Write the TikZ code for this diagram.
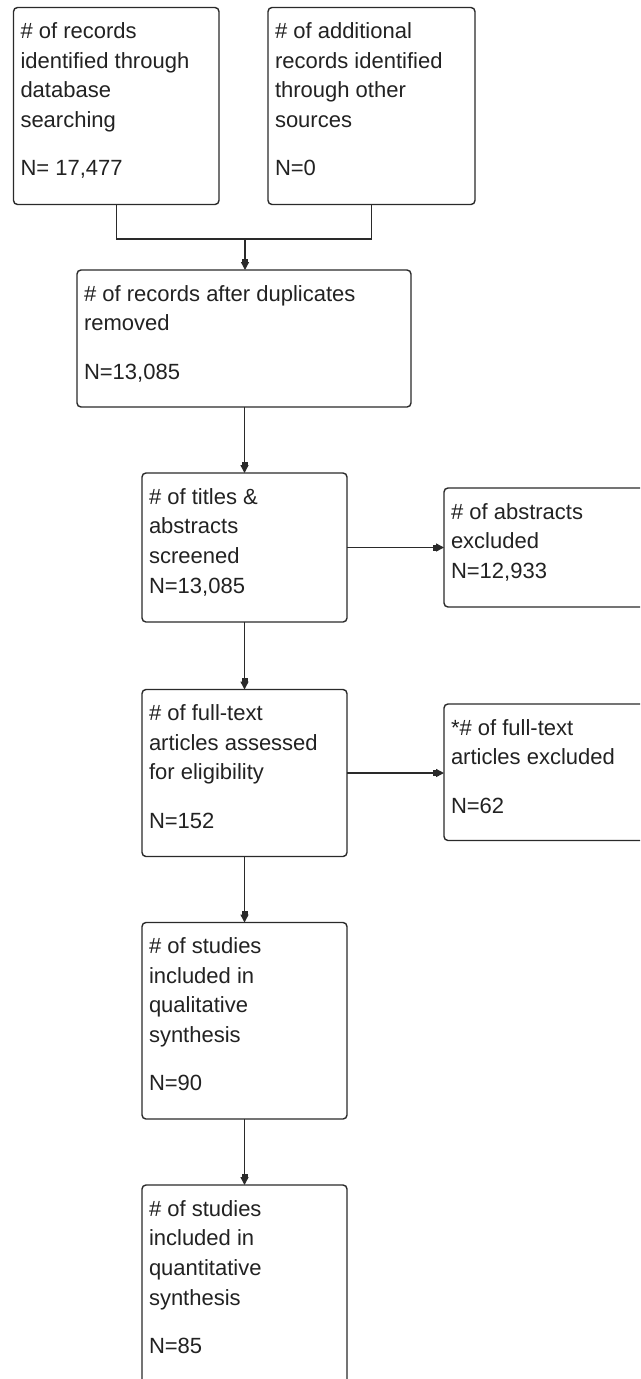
\documentclass[tikz,border=0pt]{standalone}
\usepackage{fontspec}
\setmainfont{Liberation Sans}
\usetikzlibrary{arrows.meta}
\definecolor{ln}{HTML}{2A2A2A}
\definecolor{tx}{HTML}{222222}
\tikzset{
  box/.style={draw=ln, line width=1.4pt, rounded corners=4pt, inner sep=0pt, outer sep=0pt, fill=white},
  txt/.style={anchor=north west, inner sep=0pt, outer sep=0pt, align=left, text=tx, font=\fontsize{22}{29.7}\selectfont},
  conn/.style={draw=ln, line width=1.4pt},
  arr/.style={conn, -{Rectangle[length=3.5pt,width=6pt,sep=0pt]Triangle[length=8pt,width=8pt,sep=0pt]}},
}
\newcommand\pbox[5]{%
  \node[box, anchor=north west, minimum width={(#4-#2)*1pt}, minimum height={(#5-#3)*1pt}] (#1) at (#2,#3) {};}
\newcommand\ptext[2]{%
  \node[txt] (#1t) at ([xshift=7pt,yshift=-14pt]#1.north west) {\rule{0pt}{17pt}#2};}
\begin{document}
\begin{tikzpicture}[x=1pt,y=-1pt]
\useasboundingbox (0,0) rectangle (640,1379);
\begin{scope}
\clip (0,0) rectangle (640,1379);
\fill[white] (0,0) rectangle (640,1379);
% boxes
\pbox{b1}{13.5}{7.5}{219}{204.5}
\pbox{b2}{268}{7.5}{475}{204.5}
\pbox{b3}{77}{270}{411}{407}
\pbox{b4}{142}{473}{347}{622}
\pbox{b5}{444}{488}{652}{607}
\pbox{b6}{142}{689.5}{347}{856.5}
\pbox{b7}{444}{704}{652}{840.5}
\pbox{b8}{142}{922.5}{347}{1119}
\pbox{b9}{142}{1185}{347}{1395}
% texts
\ptext{b1}{\# of records\\ identified through\\ database\\ searching\\[18.6pt] N= 17,477}
\ptext{b2}{\# of additional\\ records identified\\ through other\\ sources\\[18.6pt] N=0}
\ptext{b3}{\# of records after duplicates\\ removed\\[18.6pt] N=13,085}
\ptext{b4}{\# of titles \&\\ abstracts\\ screened\\ N=13,085}
\ptext{b5}{\# of abstracts\\ excluded\\ N=12,933}
\ptext{b6}{\# of full-text\\ articles assessed\\ for eligibility\\[18.6pt] N=152}
\ptext{b7}{*\# of full-text\\ articles excluded\\[18.6pt] N=62}
\ptext{b8}{\# of studies\\ included in\\ qualitative\\ synthesis\\[18.6pt] N=90}
\ptext{b9}{\# of studies\\ included in\\ quantitative\\ synthesis\\[18.6pt] N=85}
% connectors
\coordinate (m) at (245,239);
\draw[conn] (b1.south) |- (m) -| (b2.south);
\draw[arr] (m) -- (m |- b3.north);
\draw[arr] (b3.south -| b4.north) -- (b4.north);
\draw[arr] (b4.south) -- (b6.north);
\draw[arr] (b6.south) -- (b8.north);
\draw[arr] (b8.south) -- (b9.north);
\draw[arr] (b4.east) -- (b4.east -| b5.west);
\draw[arr] (b6.east) -- (b6.east -| b7.west);
\end{scope}
\end{tikzpicture}
\end{document}
